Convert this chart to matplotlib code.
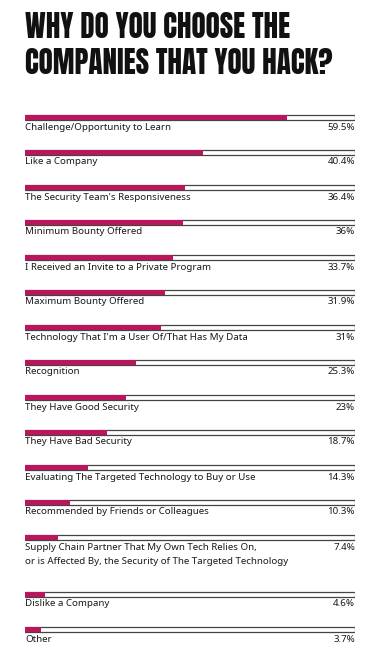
import matplotlib.pyplot as plt

labels = [
    "Challenge/Opportunity to Learn",
    "Like a Company",
    "The Security Team's Responsiveness",
    "Minimum Bounty Offered",
    "I Received an Invite to a Private Program",
    "Maximum Bounty Offered",
    "Technology That I'm a User Of/That Has My Data",
    "Recognition",
    "They Have Good Security",
    "They Have Bad Security",
    "Evaluating The Targeted Technology to Buy or Use",
    "Recommended by Friends or Colleagues",
    "Supply Chain Partner That My Own Tech Relies On,\nor is Affected By, the Security of The Targeted Technology",
    "Dislike a Company",
    "Other",
]
values = [59.5, 40.4, 36.4, 36, 33.7, 31.9, 31, 25.3, 23, 18.7, 14.3, 10.3, 7.4, 4.6, 3.7]
value_text = ["59.5%", "40.4%", "36.4%", "36%", "33.7%", "31.9%", "31%", "25.3%",
              "23%", "18.7%", "14.3%", "10.3%", "7.4%", "4.6%", "3.7%"]

W, H = 379, 654
fig = plt.figure(figsize=(W / 100, H / 100), dpi=100)
fig.patch.set_facecolor("white")

x0, x1 = 25, 355
ax = fig.add_axes([x0 / W, 0, (x1 - x0) / W, 1])
ax.set_xlim(0, 75)
ax.set_ylim(H, 0)
ax.axis("off")

# bar rows in pixel rows
ys = []
y = 117.5
for lab in labels:
    ys.append(y)
    y += 57 if "\n" in lab else 35

scale = 75
ax.barh(ys, [scale] * len(ys), height=5, color="white", edgecolor="#444444", linewidth=0.9, zorder=1)
ax.barh(ys, values, height=5, color="#bb165c", edgecolor="none", zorder=2)

for yy, lab, vt in zip(ys, labels, value_text):
    ax.text(0, yy + 5, lab, fontsize=7, family="Noto Sans", color="#1a1a1a",
            va="top", ha="left", linespacing=1.75)
    ax.text(scale, yy + 5, vt, fontsize=7, family="Noto Sans", color="#1a1a1a",
            va="top", ha="right")

fig.text(25 / W, 1 - 12 / H, "WHY DO YOU CHOOSE THE\nCOMPANIES THAT YOU HACK?",
         fontsize=21,
         family=["Anton", "Bebas Neue", "DejaVu Sans"],
         color="#111111", va="top", ha="left", linespacing=1.22)

fig.savefig("out.png", dpi=100)
